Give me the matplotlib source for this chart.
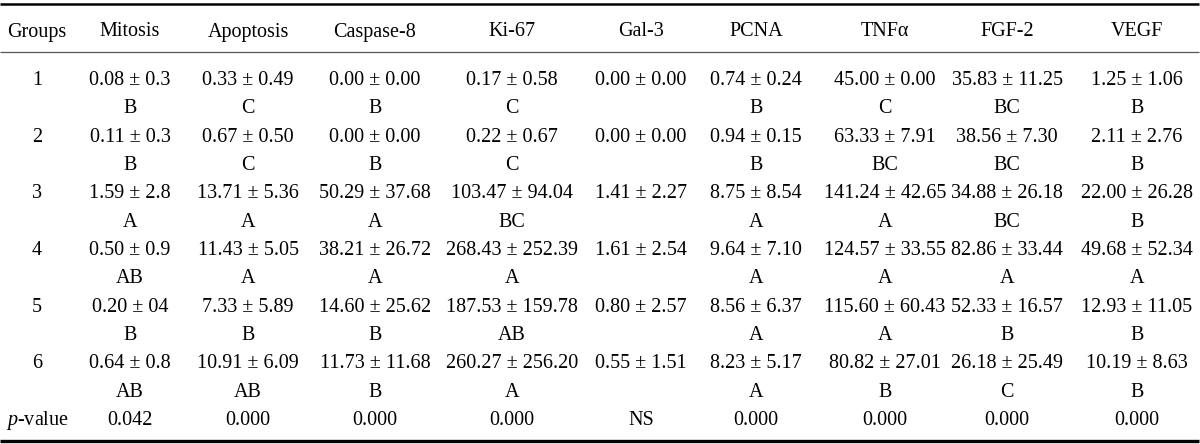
import matplotlib
matplotlib.use("Agg")
import matplotlib.pyplot as plt

plt.rcParams['font.family'] = ['Liberation Serif', 'DejaVu Serif']
plt.rcParams['mathtext.fontset'] = 'custom'
plt.rcParams['mathtext.rm'] = 'Liberation Serif'
plt.rcParams['mathtext.it'] = 'Liberation Serif:italic'

headers = ["Groups", "Mitosis", "Apoptosis", "Caspase-8", "Ki-67", "Gal-3",
           "PCNA", "TNFα", "FGF-2", "VEGF"]
groups = ["1", "2", "3", "4", "5", "6"]

mitosis = ["0.08 ± 0.3", "0.11 ± 0.3", "1.59 ± 2.8", "0.50 ± 0.9", "0.20 ± 04", "0.64 ± 0.8"]
mitosis_sig = ["B", "B", "A", "AB", "B", "AB"]
apoptosis = ["0.33 ± 0.49", "0.67 ± 0.50", "13.71 ± 5.36", "11.43 ± 5.05", "7.33 ± 5.89", "10.91 ± 6.09"]
apoptosis_sig = ["C", "C", "A", "A", "B", "AB"]
caspase8 = ["0.00 ± 0.00", "0.00 ± 0.00", "50.29 ± 37.68", "38.21 ± 26.72", "14.60 ± 25.62", "11.73 ± 11.68"]
caspase8_sig = ["B", "B", "A", "A", "B", "B"]
ki67 = ["0.17 ± 0.58", "0.22 ± 0.67", "103.47 ± 94.04", "268.43 ± 252.39", "187.53 ± 159.78", "260.27 ± 256.20"]
ki67_sig = ["C", "C", "BC", "A", "AB", "A"]
gal3 = ["0.00 ± 0.00", "0.00 ± 0.00", "1.41 ± 2.27", "1.61 ± 2.54", "0.80 ± 2.57", "0.55 ± 1.51"]
gal3_sig = ["", "", "", "", "", ""]
pcna = ["0.74 ± 0.24", "0.94 ± 0.15", "8.75 ± 8.54", "9.64 ± 7.10", "8.56 ± 6.37", "8.23 ± 5.17"]
pcna_sig = ["B", "B", "A", "A", "A", "A"]
tnfa = ["45.00 ± 0.00", "63.33 ± 7.91", "141.24 ± 42.65", "124.57 ± 33.55", "115.60 ± 60.43", "80.82 ± 27.01"]
tnfa_sig = ["C", "BC", "A", "A", "A", "B"]
fgf2 = ["35.83 ± 11.25", "38.56 ± 7.30", "34.88 ± 26.18", "82.86 ± 33.44", "52.33 ± 16.57", "26.18 ± 25.49"]
fgf2_sig = ["BC", "BC", "BC", "A", "B", "C"]
vegf = ["1.25 ± 1.06", "2.11 ± 2.76", "22.00 ± 26.28", "49.68 ± 52.34", "12.93 ± 11.05", "10.19 ± 8.63"]
vegf_sig = ["B", "B", "B", "A", "B", "B"]
p_values = ["0.042", "0.000", "0.000", "0.000", "NS", "0.000", "0.000", "0.000", "0.000"]

value_cols = [mitosis, apoptosis, caspase8, ki67, gal3, pcna, tnfa, fgf2, vegf]
sig_cols = [mitosis_sig, apoptosis_sig, caspase8_sig, ki67_sig, gal3_sig, pcna_sig,
            tnfa_sig, fgf2_sig, vegf_sig]

# layout (pixel coordinates, baselines)
W, H = 1200, 444
col_x = [37, 130, 248, 375, 512, 641, 756, 885, 1007, 1137]
header_base = 36.5
first_base = 85
pitch = 28.33
fs = 14.5

fig = plt.figure(figsize=(W / 100, H / 100), dpi=100)
ax = fig.add_axes([0, 0, 1, 1])
ax.set_xlim(0, W)
ax.set_ylim(H, 0)
ax.axis('off')

ax.plot([0, 1199], [4, 4], color='black', lw=1.8, solid_capstyle='butt')
ax.plot([0, 1199], [52, 52], color='#555555', lw=0.9, solid_capstyle='butt')
ax.plot([0, 1199], [441, 441], color='black', lw=2.4, solid_capstyle='butt')

for x, h in zip(col_x, headers):
    ax.text(x, header_base, h, ha='center', va='baseline', fontsize=fs)

for i, g in enumerate(groups):
    y = first_base + 2 * i * pitch
    ax.text(col_x[0], y, g, ha='center', va='baseline', fontsize=fs)
    for x, vals, sigs in zip(col_x[1:], value_cols, sig_cols):
        ax.text(x, y, vals[i], ha='center', va='baseline', fontsize=fs)
        if sigs[i]:
            ax.text(x, y + pitch, sigs[i], ha='center', va='baseline', fontsize=fs)

py = first_base + 12 * pitch
ax.text(col_x[0], py, r'$p$-value', ha='center', va='baseline', fontsize=fs)
for x, p in zip(col_x[1:], p_values):
    ax.text(x, py, p, ha='center', va='baseline', fontsize=fs)

fig.savefig('out.png', dpi=100)
